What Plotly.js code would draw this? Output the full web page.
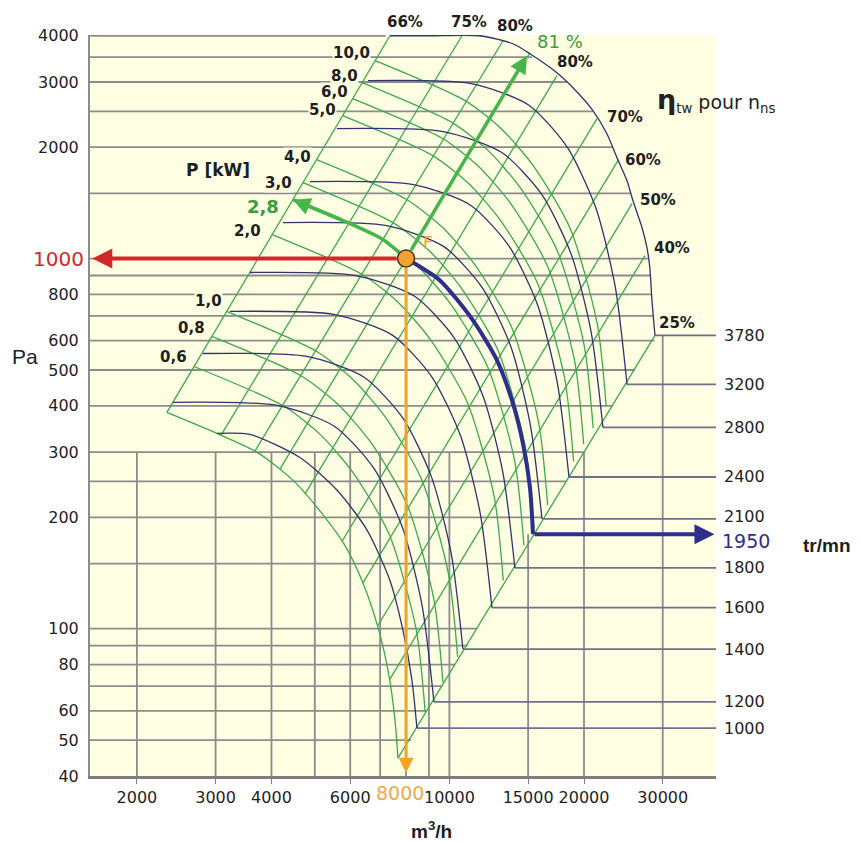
<!DOCTYPE html>
<html><head><meta charset="utf-8">
<script src="https://cdn.plot.ly/plotly-3.0.1.min.js"></script>
<style>html,body{margin:0;padding:0;background:#fff;}#chart{width:860px;height:842px;}</style>
</head><body><div id="chart"></div>
<script>
// ---------------- axes ----------------
const Q_MIN = 1571, Q_MAX = 39470;          // m3/h shown
const P_MIN = 40, P_MAX = 4000;             // Pa shown
const xTickVals = [2000, 3000, 4000, 6000, 10000, 15000, 20000, 30000];
const yTickVals = [40, 50, 60, 80, 100, 200, 300, 400, 500, 600, 800, 2000, 3000, 4000];

// ---------------- operating point ----------------
const opQ = 8000, opP = 1000, opRpm = 1950;
const opPowerLabel = '2,8', opEffLabel = '81 %';
const effArrowQ = 14910, effArrowP = 3533;

// ---------------- grid ----------------
const hGridP   = [4000, 3500, 3000, 2500, 2000, 1500, 1000, 900, 800, 700, 600, 500, 400, 300, 250, 200, 150, 100, 90, 80, 70, 60, 50];
const hGridEnd = [7200, 15300, 18300, 21000, 23200, 25500, 27900, 28150, 28330, 28600, 28750, 26000, 23160, 20000, 18230, 16110, 14010, 11500, 11000, 10290, 9623, 8910, 8204];
const vGridQ   = [2000, 3000, 4000, 5000, 6000, 7000, 8000, 9000, 10000, 15000, 20000, 30000];
const vGridTop = [300, 300, 300, 300, 300, 300, 300, 300, 300, 180, 300, 620];

// ---------------- fan curves (tr/mn) ----------------
const fan3780Q = [7362, 9046, 11701, 13870, 15136, 17397, 18896, 20940, 22505, 23700, 24950, 25730, 26960, 27660, 28070, 28380, 28827];
const fan3780P = [4000, 4000, 4000, 3805, 3576, 3178, 2895, 2512, 2175, 1874, 1625, 1435, 1213, 1071, 946, 771, 620];
const fan3200Q = [6574, 11210, 15036, 18360, 21270, 23500, 24960];
const fan3200P = [3025, 2969, 2601, 1996, 1368, 837, 457];
const fan2800Q = [5602, 9691, 13100, 16090, 18720, 20740, 22050];
const fan2800P = [2244, 2203, 1934, 1491, 1028, 635, 350];
const fan2400Q = [4875, 8315, 11150, 13620, 15770, 17430, 18510];
const fan2400P = [1615, 1585, 1394, 1077, 746, 462, 257];
const fan2100Q = [4243, 7236, 9703, 11850, 13730, 15160, 16110];
const fan2100P = [1251, 1228, 1079, 834, 577, 357, 198];
const fan1950Q = [8000, 9524, 11290, 12780, 13870, 14600, 15140, 15380];
const fan1950P = [1000, 873, 681, 531, 406, 317, 241, 180];
const fan1800Q = [3579, 6178, 8345, 10240, 11900, 13180, 14010];
const fan1800P = [917, 900, 792, 612, 424, 263, 146];
const fan1600Q = [3229, 5539, 7455, 9126, 10590, 11720, 12450];
const fan1600P = [720, 706, 621, 480, 332, 205, 114];
const fan1400Q = [2810, 4800, 6446, 7878, 9130, 10100, 10720];
const fan1400P = [554, 544, 478, 370, 256, 159, 88.1];
const fan1200Q = [2407, 4122, 5539, 6780, 7860, 8693, 9234];
const fan1200P = [409, 401, 352, 271, 187, 115, 63.4];
const fan1000Q = [3020, 3579, 4630, 5602, 6539, 7362, 7871, 8245, 8460];
const fan1000P = [337, 335, 290, 237, 185, 135, 99.1, 72.6, 53.9];
const rpmLabels = ['3780', '3200', '2800', '2400', '2100', '1800', '1600', '1400', '1200', '1000'];

// ---------------- power curves P [kW] ----------------
const pw10Q = [6822, 10840, 13055, 15395, 18626, 21404, 22423];
const pw10P = [3425, 2671, 2244, 1783, 1206, 668, 399];
const pw8Q  = [6380, 10141, 12210, 14398, 17418, 20017, 20971];
const pw8P  = [2987, 2330, 1957, 1555, 1052, 583, 348];
const pw6Q  = [6076, 9658, 11627, 13712, 16588, 19063, 19971];
const pw6P  = [2705, 2110, 1773, 1408, 952, 528, 315];
const pw5Q  = [5769, 9171, 11041, 13020, 15751, 18101, 18962];
const pw5P  = [2433, 1898, 1595, 1267, 857, 475, 283];
const pw4Q  = [5046, 8020, 9656, 11386, 13775, 15831, 16585];
const pw4P  = [1851, 1444, 1213, 964, 652, 361, 216];
const pw3Q  = [4703, 7477, 9002, 10615, 12841, 14756, 15459];
const pw3P  = [1604, 1251, 1052, 835, 565, 313, 187];
const pw28Q = [4466, 5778, 7099, 8547, 10079, 12193, 14012, 14679];
const pw28P = [1443, 1267, 1126, 946, 752, 508, 282, 168];
const pw2Q  = [4015, 6383, 7684, 9061, 10962, 12598, 13197];
const pw2P  = [1161, 906, 761, 605, 409, 227, 135];
const pw1Q  = [3175, 5047, 6076, 7165, 8668, 9961, 10435];
const pw1P  = [720, 561, 472, 375, 253, 140, 83.8];
const pw08Q = [2942, 4677, 5631, 6641, 8033, 9233, 9672];
const pw08P = [616, 481, 404, 321, 217, 120, 71.7];
const pw06Q = [2685, 4269, 5139, 6060, 7332, 8426, 8827];
const pw06P = [511, 399, 335, 266, 180, 99.7, 59.5];
const pwMinQ = [2334, 3020, 3710, 4467, 5268, 5838, 6373, 6920, 7323, 7555, 7672];
const pwMinP = [384, 337, 300, 252, 200, 168, 135, 101, 74.9, 56.7, 44.7];
const powerLabels = ['10,0', '8,0', '6,0', '5,0', '4,0', '3,0', '2,0', '1,0', '0,8', '0,6'];

// ---------------- iso-efficiency lines ----------------
const effTopQ = [7362, 10668, 13176, 15140, 17402, 21386, 23822, 25609, 27377, 28827];
const effTopP = [4000, 4000, 3878, 3599, 3120, 2388, 1840, 1408, 1019, 620];
const effBotQ = [2334, 3083, 3673, 4178, 4751, 5749, 6406, 6920, 7362, 7672];
const effBotP = [384, 333, 302, 270, 231, 172, 133, 102, 73.1, 44.7];
const effLabels = ['66%', '75%', '80%', '80%', '70%', '60%', '50%', '40%', '25%'];

// ================= drawing =================
const CREAM = '#fefee2', GRID = '#8c8c8c', RPMLINE = '#70708a', GREEN = '#3ea84c',
      NAVY = '#32326e', NAVY2 = '#2e2e8c', RED = '#d2282c', ORANGE = '#f4a222', GARROW = '#46b64a';
const L = Math.log10;
const traces = [];
function line(Q, P, color, width, spline) {
  traces.push({type: 'scatter', mode: 'lines', x: Q, y: P, hoverinfo: 'skip', showlegend: false,
    line: {color: color, width: width, shape: spline ? 'spline' : 'linear', smoothing: 0.7}});
}
// grid
hGridP.forEach((p, i) => line([Q_MIN, hGridEnd[i]], [p, p], GRID, 1.8));
vGridQ.forEach((q, i) => line([q, q], [P_MIN, vGridTop[i]], GRID, 1.8));

const fans = [[fan3780Q, fan3780P], [fan3200Q, fan3200P], [fan2800Q, fan2800P], [fan2400Q, fan2400P],
  [fan2100Q, fan2100P], [fan1800Q, fan1800P], [fan1600Q, fan1600P], [fan1400Q, fan1400P],
  [fan1200Q, fan1200P], [fan1000Q, fan1000P]];
// rpm lines from curve end to right axis
fans.forEach(f => { const n = f[0].length - 1; line([f[0][n], Q_MAX], [f[1][n], f[1][n]], RPMLINE, 1.8); });

// iso-efficiency lines
effTopQ.forEach((q, i) => line([effBotQ[i], q], [effBotP[i], effTopP[i]], GREEN, 1.3));
// power curves
[[pw10Q, pw10P], [pw8Q, pw8P], [pw6Q, pw6P], [pw5Q, pw5P], [pw4Q, pw4P], [pw3Q, pw3P], [pw28Q, pw28P],
 [pw2Q, pw2P], [pw1Q, pw1P], [pw08Q, pw08P], [pw06Q, pw06P], [pwMinQ, pwMinP]]
  .forEach(c => line(c[0], c[1], GREEN, 1.3, true));
// fan curves
fans.forEach(f => line(f[0], f[1], NAVY, 1.3, true));
line(fan1950Q, fan1950P, NAVY2, 4, true);
// power arrow body along the 2,8 kW curve up to F
line(pw28Q.slice(0, 3).concat([opQ]), pw28P.slice(0, 3).concat([opP]), GARROW, 3.5, true);
// operating point
traces.push({type: 'scatter', mode: 'markers', x: [opQ], y: [opP], hoverinfo: 'skip', showlegend: false,
  marker: {size: 17, color: '#f2a234', line: {color: '#4a3414', width: 1.5}}});

// ---------------- annotations ----------------
const ann = [];
function arrow(q0, p0, q1, p1, color, width, standoff) {
  ann.push({xref: 'x', yref: 'y', axref: 'x', ayref: 'y', x: L(q1), y: L(p1), ax: L(q0), ay: L(p0),
    text: '', showarrow: true, arrowhead: 2, arrowsize: 1, arrowwidth: width, arrowcolor: color,
    startstandoff: standoff || 0});
}
arrow(opQ, opP, Q_MIN * 1.012, opP, RED, 4, 8);
arrow(opQ, opP, opQ, P_MIN * 1.02, ORANGE, 3, 8);
arrow(opQ, opP, effArrowQ, effArrowP, GARROW, 3.5, 8);
arrow(pw28Q[1], pw28P[1], pw28Q[0], pw28P[0], GARROW, 3.5, 0);
arrow(fan1950Q[fan1950Q.length - 1], fan1950P[fan1950P.length - 1], Q_MAX * 0.992, fan1950P[fan1950P.length - 1], NAVY2, 4, 0);

function txt(x, y, text, o) {
  ann.push(Object.assign({xref: 'paper', yref: 'paper', x: x, y: y, xanchor: 'center', yanchor: 'middle',
    text: text, showarrow: false, font: {family: 'DejaVu Sans', size: 15, color: '#1e1e1e'}}, o || {}));
}
// efficiency labels
const effPos = [[0.5032, 1.0175], [0.6054, 1.0175], [0.6789, 1.0121], [0.7748, 0.9636], [0.8546, 0.8893],
  [0.8834, 0.8313], [0.9073, 0.7773], [0.9297, 0.7126], [0.9377, 0.6113]];
effLabels.forEach((t, i) => txt(effPos[i][0], effPos[i][1], '<b>' + t + '</b>', {font: {family: 'DejaVu Sans', size: 15, color: '#1e1e1e'}}));
txt(0.7508, 0.9919, opEffLabel, {font: {family: 'DejaVu Sans', size: 18, color: '#3c9c3c'}});
// power labels
const pwPos = [[0.4185, 0.9757], [0.4073, 0.9447], [0.3898, 0.9231], [0.3722, 0.8988], [0.3307, 0.8354],
  [0.3019, 0.8003], [0.2508, 0.7355], [0.1885, 0.6410], [0.1629, 0.6046], [0.1326, 0.5655]];
powerLabels.forEach((t, i) => txt(pwPos[i][0], pwPos[i][1], '<b>' + t + '</b>',
  {bgcolor: CREAM, borderpad: 0, font: {family: 'DejaVu Sans', size: 15, color: '#1e1e1e'}}));
txt(0.2764, 0.7679, '<b>' + opPowerLabel + '</b>', {bgcolor: CREAM, borderpad: 0, font: {family: 'DejaVu Sans', size: 18, color: '#3c9c3c'}});
txt(0.2045, 0.8178, '<b>P [kW]</b>', {bgcolor: CREAM, borderpad: 0, font: {family: 'DejaVu Sans', size: 17, color: '#1e1e1e'}});
txt(0.5399, 0.7193, 'F', {font: {family: 'DejaVu Sans', size: 17, color: '#f0a040'}});
txt(0.9026, 0.9123, '<span style="font-size:27px"><b>η</b></span><sub>tw</sub> pour n<sub>ns</sub>',
  {xanchor: 'left', font: {family: 'DejaVu Sans', size: 19, color: '#222'}});
// axis words
txt(-0.1038, 0.5668, 'Pa', {font: {family: 'Liberation Sans', size: 21, color: '#1e1e1e'}});
txt(0.5463, -0.0729, '<b>m<sup>3</sup>/h</b>', {font: {family: 'Liberation Sans', size: 19, color: '#1e1e1e'}});
txt(1.1773, 0.3117, '<b>tr/mn</b>', {font: {family: 'Liberation Sans', size: 19, color: '#1e1e1e'}});
// special tick labels
ann.push({xref: 'paper', yref: 'y', x: 0, y: L(opP), xanchor: 'right', yanchor: 'middle', xshift: -4, text: String(opP), showarrow: false,
  font: {family: 'DejaVu Sans', size: 20, color: RED}});
ann.push({xref: 'x', yref: 'paper', x: L(opQ), y: 0, xanchor: 'center', yanchor: 'top', yshift: -4, xshift: -6, text: String(opQ), showarrow: false,
  font: {family: 'DejaVu Sans', size: 19, color: '#f2a848'}});
// rpm labels on the right
fans.forEach((f, i) => { const n = f[1].length - 1;
  ann.push({xref: 'paper', yref: 'y', x: 1, y: L(f[1][n]), xanchor: 'left', yanchor: 'middle', xshift: 6, yshift: i === 4 ? 2 : 0,
    text: rpmLabels[i], showarrow: false, font: {family: 'DejaVu Sans', size: 16, color: '#1e1e1e'}}); });
ann.push({xref: 'paper', yref: 'y', x: 1, y: L(fan1950P[fan1950P.length - 1]), xanchor: 'left', yanchor: 'middle', xshift: 4, yshift: -7,
  text: String(opRpm), showarrow: false, font: {family: 'DejaVu Sans', size: 19, color: NAVY2}});

const shapes = [{type: 'line', xref: 'paper', yref: 'y', x0: 1, x1: 1, y0: L(P_MIN), y1: L(fan3780P[fan3780P.length - 1]),
  line: {color: GRID, width: 2}}];

const layout = {
  width: 860, height: 842, margin: {l: 90, r: 144, t: 35, b: 66, pad: 0},
  paper_bgcolor: '#ffffff', plot_bgcolor: CREAM, showlegend: false,
  font: {family: 'DejaVu Sans', size: 16, color: '#1e1e1e'},
  xaxis: {type: 'log', range: [L(Q_MIN), L(Q_MAX)], tickvals: xTickVals, ticktext: xTickVals.map(String),
    showgrid: false, zeroline: false, showline: true, linecolor: '#7d7d7d', linewidth: 3,
    ticks: 'outside', ticklen: 5, tickcolor: '#7d7d7d', tickfont: {size: 16}},
  yaxis: {type: 'log', range: [L(P_MIN), L(P_MAX) + 0.002], tickvals: yTickVals, ticktext: yTickVals.map(String),
    showgrid: false, zeroline: false, showline: true, linecolor: '#8c8c8c', linewidth: 2,
    ticks: '', ticklabelstandoff: 6, tickfont: {size: 16}},
  annotations: ann, shapes: shapes
};
Plotly.newPlot('chart', traces, layout, {displayModeBar: false, staticPlot: true});
</script></body></html>
